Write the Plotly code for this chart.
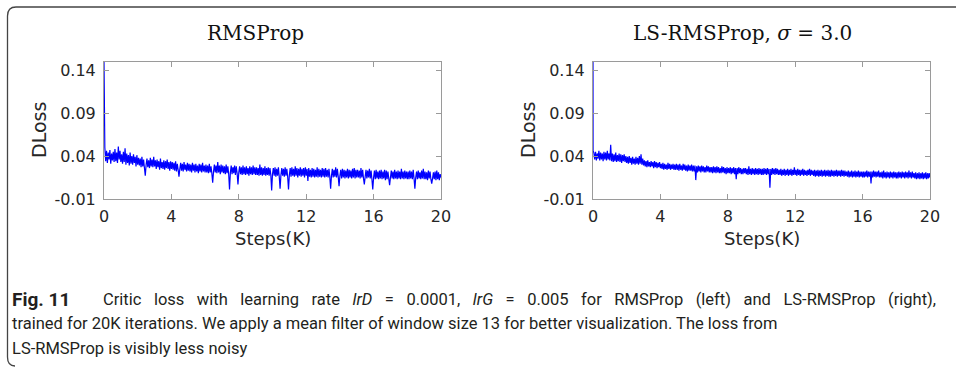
import plotly.graph_objects as go

# ---------------- data ----------------
x_ticks = [0, 4, 8, 12, 16, 20]
y_ticks = [-0.01, 0.04, 0.09, 0.14]
y_tick_labels = ["-0.01", "0.04", "0.09", "0.14"]

# initial spike (steps in K)
rms_head_steps = [0.0, 0.01, 0.02, 0.03]
rms_head_loss = [0.150, 0.110, 0.075, 0.058]
ls_head_steps = [0.0, 0.005]
ls_head_loss = [0.150, 0.046]

# body, sampled every 0.05K from 0.05K to 20K (one row = 1K)
rms_loss = [
    0.050, 0.034, 0.046, 0.032, 0.044, 0.036, 0.047, 0.031, 0.043, 0.035, 0.045, 0.033, 0.048, 0.034, 0.044, 0.032, 0.051, 0.036, 0.046, 0.033,
    0.042, 0.031, 0.045, 0.033, 0.049, 0.030, 0.043, 0.032, 0.041, 0.029, 0.044, 0.031, 0.040, 0.030, 0.042, 0.032, 0.039, 0.028, 0.041, 0.030,
    0.038, 0.029, 0.037, 0.027, 0.039, 0.028, 0.036, 0.026, 0.017, 0.030, 0.037, 0.027, 0.035, 0.026, 0.038, 0.028, 0.036, 0.027, 0.039, 0.028,
    0.035, 0.025, 0.036, 0.027, 0.034, 0.024, 0.037, 0.026, 0.033, 0.025, 0.035, 0.024, 0.034, 0.026, 0.036, 0.025, 0.033, 0.023, 0.034, 0.025,
    0.033, 0.024, 0.032, 0.023, 0.034, 0.022, 0.031, 0.024, 0.016, 0.025, 0.032, 0.023, 0.031, 0.022, 0.033, 0.024, 0.030, 0.022, 0.032, 0.023,
    0.031, 0.022, 0.030, 0.021, 0.032, 0.023, 0.030, 0.021, 0.031, 0.022, 0.029, 0.020, 0.031, 0.022, 0.030, 0.021, 0.032, 0.022, 0.029, 0.021,
    0.030, 0.021, 0.029, 0.020, 0.031, 0.021, 0.028, 0.020, 0.009, 0.022, 0.030, 0.021, 0.029, 0.020, 0.033, 0.021, 0.029, 0.019, 0.030, 0.021,
    0.029, 0.020, 0.028, 0.019, 0.030, 0.020, 0.028, 0.019, 0.001, 0.021, 0.029, 0.019, 0.027, 0.020, 0.029, 0.018, 0.028, 0.020, 0.007, 0.021,
    0.028, 0.019, 0.027, 0.018, 0.029, 0.019, 0.027, 0.018, 0.028, 0.019, 0.026, 0.017, 0.028, 0.019, 0.027, 0.018, 0.029, 0.019, 0.027, 0.018,
    0.027, 0.018, 0.026, 0.017, 0.030, 0.018, 0.027, 0.017, 0.026, 0.018, 0.028, 0.017, 0.026, 0.018, 0.027, 0.017, 0.026, 0.018, 0.000, 0.019,
    0.026, 0.017, 0.027, 0.016, 0.025, 0.017, 0.027, 0.016, 0.002, 0.018, 0.026, 0.017, 0.025, 0.016, 0.027, 0.017, 0.025, 0.016, 0.001, 0.018,
    0.026, 0.016, 0.027, 0.017, 0.025, 0.016, 0.028, 0.017, 0.026, 0.015, 0.025, 0.017, 0.027, 0.016, 0.025, 0.017, 0.026, 0.015, 0.027, 0.017,
    0.025, 0.011, 0.026, 0.016, 0.024, 0.015, 0.026, 0.016, 0.025, 0.015, 0.024, 0.016, 0.027, 0.015, 0.025, 0.016, 0.024, 0.015, 0.026, 0.016,
    0.025, 0.015, 0.026, 0.016, 0.024, 0.015, 0.025, 0.016, 0.002, 0.017, 0.025, 0.015, 0.024, 0.016, 0.027, 0.015, 0.025, 0.016, 0.005, 0.017,
    0.024, 0.014, 0.025, 0.015, 0.024, 0.014, 0.023, 0.015, 0.025, 0.014, 0.024, 0.015, 0.023, 0.014, 0.025, 0.015, 0.026, 0.014, 0.024, 0.015,
    0.024, 0.015, 0.023, 0.014, 0.026, 0.015, 0.024, 0.014, 0.007, 0.016, 0.024, 0.014, 0.023, 0.015, 0.025, 0.014, 0.023, 0.013, 0.001, 0.015,
    0.023, 0.013, 0.024, 0.014, 0.022, 0.013, 0.023, 0.014, 0.024, 0.013, 0.022, 0.014, 0.024, 0.012, 0.023, 0.013, 0.022, 0.014, 0.006, 0.015,
    0.023, 0.014, 0.022, 0.013, 0.024, 0.014, 0.022, 0.013, 0.023, 0.014, 0.022, 0.013, 0.025, 0.014, 0.022, 0.013, 0.023, 0.014, 0.022, 0.013,
    0.022, 0.013, 0.023, 0.014, 0.022, 0.013, 0.024, 0.014, 0.002, 0.015, 0.022, 0.013, 0.023, 0.014, 0.021, 0.013, 0.023, 0.014, 0.025, 0.013,
    0.022, 0.013, 0.021, 0.012, 0.023, 0.014, 0.022, 0.013, 0.008, 0.014, 0.021, 0.013, 0.022, 0.012, 0.023, 0.013, 0.021, 0.012, 0.019, 0.015,
]

ls_loss = [
    0.044, 0.036, 0.045, 0.035, 0.043, 0.037, 0.046, 0.035, 0.044, 0.036, 0.043, 0.034, 0.045, 0.036, 0.044, 0.035, 0.046, 0.036, 0.043, 0.035,
    0.053, 0.034, 0.043, 0.033, 0.042, 0.034, 0.044, 0.033, 0.041, 0.034, 0.043, 0.033, 0.042, 0.032, 0.041, 0.034, 0.042, 0.033, 0.040, 0.032,
    0.039, 0.031, 0.040, 0.032, 0.038, 0.030, 0.039, 0.031, 0.037, 0.030, 0.039, 0.031, 0.038, 0.030, 0.040, 0.031, 0.042, 0.030, 0.037, 0.029,
    0.035, 0.028, 0.034, 0.027, 0.035, 0.028, 0.033, 0.027, 0.034, 0.028, 0.033, 0.026, 0.034, 0.027, 0.033, 0.026, 0.032, 0.027, 0.033, 0.026,
    0.031, 0.025, 0.032, 0.024, 0.031, 0.025, 0.030, 0.024, 0.032, 0.025, 0.031, 0.024, 0.030, 0.025, 0.031, 0.024, 0.030, 0.024, 0.031, 0.024,
    0.030, 0.023, 0.031, 0.024, 0.029, 0.023, 0.031, 0.024, 0.030, 0.023, 0.029, 0.022, 0.030, 0.023, 0.029, 0.023, 0.030, 0.022, 0.029, 0.022,
    0.029, 0.012, 0.028, 0.021, 0.029, 0.022, 0.028, 0.021, 0.029, 0.022, 0.028, 0.021, 0.027, 0.021, 0.029, 0.022, 0.028, 0.021, 0.027, 0.021,
    0.027, 0.020, 0.028, 0.021, 0.027, 0.020, 0.028, 0.021, 0.027, 0.020, 0.026, 0.020, 0.028, 0.021, 0.027, 0.020, 0.026, 0.019, 0.027, 0.020,
    0.026, 0.020, 0.027, 0.019, 0.026, 0.020, 0.027, 0.019, 0.026, 0.013, 0.026, 0.019, 0.027, 0.020, 0.026, 0.019, 0.025, 0.019, 0.026, 0.020,
    0.026, 0.019, 0.025, 0.018, 0.028, 0.019, 0.025, 0.018, 0.026, 0.019, 0.025, 0.018, 0.026, 0.019, 0.025, 0.018, 0.026, 0.019, 0.025, 0.018,
    0.025, 0.018, 0.026, 0.019, 0.025, 0.018, 0.026, 0.019, 0.025, 0.003, 0.025, 0.018, 0.026, 0.019, 0.025, 0.018, 0.026, 0.019, 0.025, 0.018,
    0.024, 0.018, 0.025, 0.017, 0.024, 0.018, 0.025, 0.017, 0.024, 0.018, 0.025, 0.017, 0.024, 0.018, 0.025, 0.017, 0.024, 0.018, 0.027, 0.018,
    0.024, 0.017, 0.025, 0.018, 0.024, 0.017, 0.024, 0.018, 0.025, 0.017, 0.024, 0.018, 0.023, 0.017, 0.024, 0.018, 0.025, 0.017, 0.024, 0.018,
    0.023, 0.017, 0.024, 0.016, 0.023, 0.017, 0.024, 0.016, 0.023, 0.017, 0.024, 0.016, 0.023, 0.017, 0.024, 0.016, 0.023, 0.017, 0.024, 0.016,
    0.023, 0.016, 0.024, 0.017, 0.023, 0.016, 0.023, 0.017, 0.024, 0.016, 0.023, 0.017, 0.023, 0.016, 0.024, 0.017, 0.023, 0.016, 0.023, 0.017,
    0.022, 0.016, 0.023, 0.015, 0.022, 0.016, 0.023, 0.015, 0.022, 0.016, 0.023, 0.015, 0.022, 0.016, 0.023, 0.015, 0.022, 0.016, 0.022, 0.015,
    0.022, 0.015, 0.022, 0.016, 0.023, 0.015, 0.022, 0.016, 0.022, 0.008, 0.022, 0.015, 0.023, 0.016, 0.022, 0.015, 0.022, 0.016, 0.023, 0.015,
    0.021, 0.015, 0.022, 0.014, 0.023, 0.015, 0.021, 0.014, 0.022, 0.015, 0.021, 0.014, 0.022, 0.015, 0.021, 0.014, 0.022, 0.015, 0.021, 0.014,
    0.021, 0.014, 0.022, 0.015, 0.021, 0.014, 0.022, 0.015, 0.021, 0.014, 0.022, 0.015, 0.021, 0.014, 0.023, 0.015, 0.021, 0.014, 0.022, 0.015,
    0.020, 0.014, 0.021, 0.013, 0.020, 0.014, 0.021, 0.013, 0.020, 0.014, 0.021, 0.013, 0.020, 0.014, 0.021, 0.013, 0.020, 0.014, 0.020, 0.015,
]

body_steps = [round(0.05 * (i + 1), 2) for i in range(len(rms_loss))]

titles = ["RMSProp", "LS-RMSProp, <i>σ</i> = 3.0"]
x_title = "Steps(K)"
y_title = "DLoss"
caption_label = "<b>Fig. 11</b>"
caption_first = ("Critic loss with learning rate <i>lrD</i> = 0.0001, <i>lrG</i> = 0.005 "
                 "for RMSProp (left) and LS-RMSProp (right),")
caption_rest = [
    "trained for 20K iterations. We apply a mean filter of window size 13 for better visualization. The loss from",
    "LS-RMSProp is visibly less noisy",
]

# ---------------- figure ----------------
W, H = 956, 367
BLUE = "#0000ff"
AX = "#9a9a9a"
TXT = "#262626"
CAP = "#231f20"

fig = go.Figure()
fig.add_trace(go.Scatter(x=rms_head_steps + body_steps, y=rms_head_loss + rms_loss,
                         mode="lines", line=dict(color=BLUE, width=1.2),
                         xaxis="x", yaxis="y", showlegend=False, hoverinfo="skip"))
fig.add_trace(go.Scatter(x=ls_head_steps + body_steps, y=ls_head_loss + ls_loss,
                         mode="lines", line=dict(color=BLUE, width=1.2),
                         xaxis="x2", yaxis="y2", showlegend=False, hoverinfo="skip"))

def px_x(p):
    return p / W

def px_y(p):
    return 1 - p / H

left_dom = [px_x(104), px_x(441)]
right_dom = [px_x(593), px_x(930)]
y_dom = [px_y(199), px_y(61.5)]

common_x = dict(range=[0, 20], tickvals=x_ticks, showgrid=False, zeroline=False,
                showline=True, mirror="ticks", linecolor=AX, linewidth=1,
                ticks="inside", ticklen=5, tickcolor=AX, tickwidth=1,
                tickfont=dict(family="DejaVu Sans", size=16, color=TXT),
                ticklabelstandoff=3, fixedrange=True)
common_y = dict(range=[-0.01, 0.15], tickvals=y_ticks, ticktext=y_tick_labels,
                showgrid=False, zeroline=False,
                showline=True, mirror="ticks", linecolor=AX, linewidth=1,
                ticks="inside", ticklen=5, tickcolor=AX, tickwidth=1,
                tickfont=dict(family="DejaVu Sans", size=16, color=TXT),
                ticklabelstandoff=4, fixedrange=True)

fig.update_layout(
    width=W, height=H,
    margin=dict(l=0, r=0, t=0, b=0, autoexpand=False),
    paper_bgcolor="white", plot_bgcolor="white",
    xaxis=dict(domain=left_dom, anchor="y", **common_x),
    yaxis=dict(domain=y_dom, anchor="x", **common_y),
    xaxis2=dict(domain=right_dom, anchor="y2", **common_x),
    yaxis2=dict(domain=y_dom, anchor="x2", **common_y),
)

annotations = []
# subplot titles
for cx, t in zip([256, 742], titles):
    annotations.append(dict(text=t, x=px_x(cx), y=px_y(33), xref="paper", yref="paper",
                            xanchor="center", yanchor="middle", showarrow=False,
                            font=dict(family="DejaVu Serif", size=20, color="#111111")))
# axis titles
for cx in [272.5, 761.5]:
    annotations.append(dict(text=x_title, x=px_x(cx), y=px_y(239), xref="paper", yref="paper",
                            xanchor="center", yanchor="middle", showarrow=False,
                            font=dict(family="DejaVu Sans", size=18, color=TXT)))
for cx in [39, 528]:
    annotations.append(dict(text=y_title, x=px_x(cx), y=px_y(130), xref="paper", yref="paper",
                            xanchor="center", yanchor="middle", showarrow=False, textangle=-90,
                            font=dict(family="DejaVu Sans", size=19, color=TXT)))
# caption (first line is justified in the source, so its word gaps are wider)
cap_font = dict(family="Roboto", size=16.5, color=CAP)
annotations.append(dict(text=caption_label, x=px_x(10), y=px_y(299), xref="paper", yref="paper",
                        xanchor="left", yanchor="middle", showarrow=False,
                        font=dict(family="Roboto", size=19, color=CAP)))
annotations.append(dict(text=caption_first.replace(" ", " \u2002"), x=px_x(101), y=px_y(299),
                        xref="paper", yref="paper", xanchor="left", yanchor="middle",
                        showarrow=False, font=cap_font))
for i, line in enumerate(caption_rest):
    annotations.append(dict(text=line, x=px_x(10), y=px_y(323.5 + 24.5 * i), xref="paper", yref="paper",
                            xanchor="left", yanchor="middle", showarrow=False, align="left",
                            font=cap_font))
fig.update_layout(annotations=annotations)

# frame around the figure (rounded corners on the left)
fx = lambda p: p / W
fy = lambda p: 1 - p / H
path = (f"M {fx(956)},{fy(7)} L {fx(16)},{fy(7)} "
        f"Q {fx(7.5)},{fy(7)} {fx(7.5)},{fy(16)} "
        f"L {fx(7.5)},{fy(357)} Q {fx(7.5)},{fy(366)} {fx(15)},{fy(366)}")
fig.add_shape(type="path", path=path, xref="paper", yref="paper",
              line=dict(color="#444444", width=1.3))

fig.write_html("out.html", config={"displayModeBar": False},
               post_script="document.body.style.margin='0px';document.body.style.overflow='hidden';")
